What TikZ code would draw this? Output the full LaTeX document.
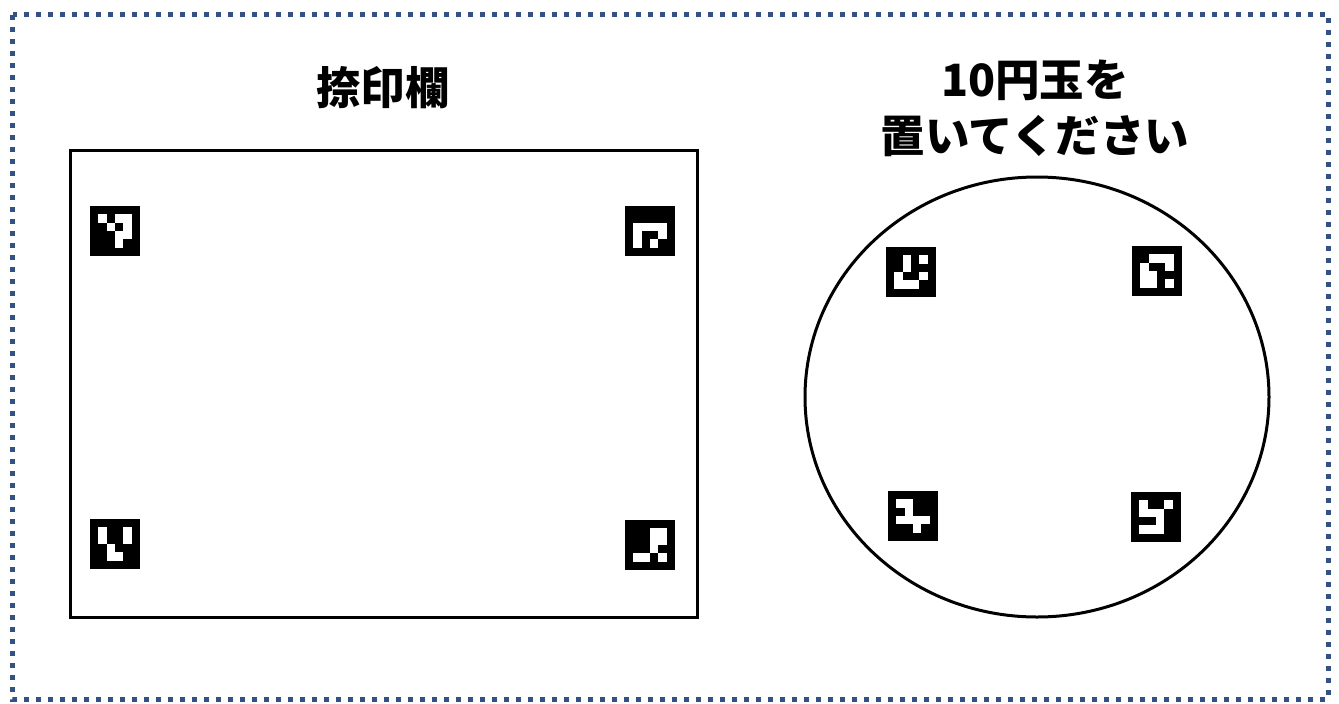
\documentclass[tikz,border=0pt]{standalone}
\usepackage{fontspec}
\usetikzlibrary{calc,shapes.geometric}
\newfontfamily\cjk{Noto Sans CJK JP}
\definecolor{borderblue}{RGB}{47,82,143}
\newcommand\whitecells[2]{%
  \foreach \r/\c in {#2}{%
    \fill[white] ($(#1.north west)+({(\c+1)*50/6},{(\r+1)*50/6})$) rectangle +({50/6},{50/6});}}
\begin{document}
\begin{tikzpicture}[x=1pt,y=-1pt,
  outline/.style={draw=black,line width=3pt,inner sep=0pt,outer sep=0pt},
  marker/.style={fill=black,draw=none,minimum size=50pt,inner sep=0pt,outer sep=0pt},
  title/.style={font=\cjk\bfseries\fontsize{44.5}{56}\selectfont,inner sep=0pt,align=center}]
\useasboundingbox (0,0) rectangle (1339,704);
\draw[borderblue,line width=5pt,dash pattern=on 5pt off 7pt] (12.5,14.5) rectangle (1328,699);
\node[title] (t1) at (383,88) {捺印欄};
\node[title] (t2) at (1035,108) {10円玉を\\置いてください};
\node[outline,minimum width=627pt,minimum height=467pt] (box) at (383.5,383.5) {};
\node[outline,ellipse,minimum width=464pt,minimum height=440pt] (coin) at (1037,397) {};
\node[marker] (m1) at (115,231) {};
\whitecells{m1}{0/0,0/2,0/3,1/1,1/3,2/2,2/3,3/2}
\node[marker] (m2) at (650,231) {};
\whitecells{m2}{1/0,1/1,1/2,1/3,2/0,2/3,3/0,3/2}
\node[marker] (m3) at (115,544) {};
\whitecells{m3}{0/0,0/3,1/0,1/3,2/1,3/1,3/2}
\node[marker] (m4) at (650,545) {};
\whitecells{m4}{0/2,0/3,1/2,1/3,2/2,3/0,3/1,3/3}
\node[marker] (m5) at (911,272) {};
\whitecells{m5}{0/1,0/3,1/1,2/0,2/3,3/0,3/1,3/2}
\node[marker] (m6) at (1157,271) {};
\whitecells{m6}{0/1,0/2,0/3,1/0,1/3,2/0,2/1,3/0,3/1,3/3}
\node[marker] (m7) at (913,516) {};
\whitecells{m7}{0/0,0/1,1/1,2/0,2/1,2/2,2/3,3/2}
\node[marker] (m8) at (1156,517) {};
\whitecells{m8}{0/0,0/3,1/0,1/1,1/2,2/2,3/0,3/1,3/2}
\end{tikzpicture}
\end{document}
